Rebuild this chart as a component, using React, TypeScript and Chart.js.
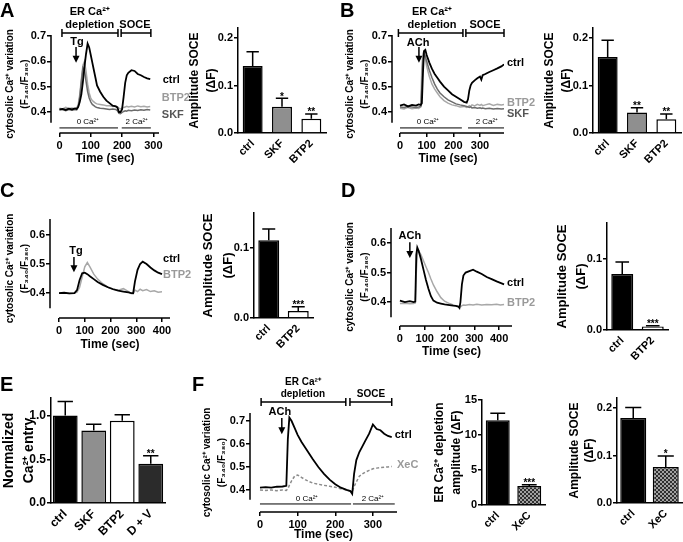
import { useEffect, useRef } from "react";
import { Chart, registerables } from "chart.js";

Chart.register(...registerables);

const FONT = "'Liberation Sans', Arial, Helvetica, sans-serif";

// ---------------- DATA ----------------
const A_TIME = [0, 10, 20, 30, 40, 50, 55, 60, 65, 70, 75, 80, 85, 90, 95, 100, 105, 110, 115, 120, 130, 140, 150, 160, 170, 180, 185, 190, 195, 200, 205, 210, 215, 220, 230, 240, 250, 260, 270, 280, 290];
const A_CTRL = [0.41, 0.412, 0.408, 0.413, 0.41, 0.414, 0.412, 0.42, 0.44, 0.47, 0.52, 0.58, 0.63, 0.67, 0.655, 0.625, 0.595, 0.565, 0.535, 0.505, 0.48, 0.46, 0.445, 0.435, 0.425, 0.422, 0.418, 0.4, 0.4, 0.41, 0.46, 0.515, 0.545, 0.555, 0.565, 0.562, 0.55, 0.545, 0.538, 0.533, 0.53];
const A_BTP2 = [0.415, 0.412, 0.418, 0.414, 0.416, 0.413, 0.415, 0.43, 0.47, 0.53, 0.585, 0.6, 0.56, 0.51, 0.475, 0.455, 0.445, 0.44, 0.435, 0.432, 0.43, 0.428, 0.425, 0.425, 0.422, 0.423, 0.42, 0.415, 0.412, 0.415, 0.418, 0.42, 0.422, 0.42, 0.423, 0.42, 0.424, 0.421, 0.423, 0.42, 0.422];
const A_SKF = [0.408, 0.41, 0.405, 0.41, 0.407, 0.41, 0.408, 0.42, 0.46, 0.52, 0.575, 0.565, 0.52, 0.48, 0.455, 0.44, 0.43, 0.425, 0.42, 0.418, 0.415, 0.414, 0.412, 0.41, 0.412, 0.41, 0.405, 0.395, 0.393, 0.398, 0.402, 0.405, 0.403, 0.407, 0.405, 0.408, 0.406, 0.409, 0.407, 0.41, 0.408];
const A_X_TICKS = [0, 100, 200, 300];
const TRACE_Y_TICKS = [0.4, 0.5, 0.6, 0.7];

const A_BAR_CATS = ["ctrl", "SKF", "BTP2"];
const A_BAR_MEAN = [0.141, 0.055, 0.03];
const A_BAR_SEM = [0.03, 0.018, 0.01];
const A_BAR_SIG = ["", "*", "**"];
const SOCE_Y_TICKS = [0, 0.1, 0.2];

const B_TIME = [0, 15, 30, 45, 60, 70, 78, 82, 86, 90, 95, 100, 110, 120, 130, 140, 150, 165, 180, 195, 210, 225, 240, 250, 255, 260, 265, 270, 280, 290, 300, 305, 310, 320, 335, 350, 365, 380, 390];
const B_CTRL = [0.425, 0.43, 0.422, 0.428, 0.425, 0.43, 0.428, 0.435, 0.55, 0.64, 0.645, 0.625, 0.595, 0.57, 0.55, 0.535, 0.52, 0.5, 0.485, 0.47, 0.46, 0.45, 0.44, 0.437, 0.45, 0.485, 0.505, 0.515, 0.525, 0.533, 0.54, 0.528, 0.545, 0.55, 0.558, 0.565, 0.572, 0.58, 0.588];
const B_BTP2 = [0.415, 0.412, 0.418, 0.413, 0.416, 0.414, 0.42, 0.58, 0.63, 0.64, 0.61, 0.58, 0.54, 0.51, 0.49, 0.475, 0.46, 0.445, 0.435, 0.428, 0.425, 0.42, 0.422, 0.418, 0.42, 0.425, 0.422, 0.428, 0.424, 0.43, 0.426, 0.43, 0.425, 0.428, 0.432, 0.426, 0.43, 0.428, 0.43];
const B_SKF = [0.42, 0.418, 0.422, 0.42, 0.418, 0.42, 0.422, 0.5, 0.6, 0.63, 0.62, 0.6, 0.565, 0.535, 0.51, 0.49, 0.475, 0.46, 0.448, 0.44, 0.432, 0.428, 0.425, 0.422, 0.42, 0.418, 0.42, 0.416, 0.418, 0.415, 0.417, 0.414, 0.416, 0.413, 0.415, 0.412, 0.414, 0.412, 0.413];
const B_X_TICKS = [0, 100, 200, 300];

const B_BAR_CATS = ["ctrl", "SKF", "BTP2"];
const B_BAR_MEAN = [0.16, 0.043, 0.029];
const B_BAR_SEM = [0.035, 0.01, 0.011];
const B_BAR_SIG = ["", "**", "**"];

const C_TIME = [0, 20, 40, 60, 70, 80, 90, 100, 110, 120, 135, 150, 170, 190, 210, 230, 250, 270, 280, 288, 295, 305, 315, 325, 340, 355, 370, 385, 400];
const C_CTRL = [0.4, 0.401, 0.399, 0.4, 0.41, 0.445, 0.468, 0.47, 0.465, 0.458, 0.448, 0.438, 0.428, 0.42, 0.413, 0.408, 0.405, 0.402, 0.4, 0.4, 0.44, 0.48, 0.5, 0.508, 0.5, 0.488, 0.478, 0.47, 0.465];
const C_BTP2 = [0.4, 0.4, 0.398, 0.4, 0.403, 0.42, 0.455, 0.49, 0.505, 0.49, 0.465, 0.448, 0.432, 0.42, 0.414, 0.41, 0.415, 0.405, 0.398, 0.397, 0.41, 0.405, 0.413, 0.408, 0.412, 0.405, 0.408, 0.403, 0.404];
const CD_X_TICKS = [0, 100, 200, 300, 400];
const CD_Y_TICKS = [0.4, 0.5, 0.6];

const C_BAR_CATS = ["ctrl", "BTP2"];
const C_BAR_MEAN = [0.111, 0.01];
const C_BAR_SEM = [0.016, 0.006];
const C_BAR_SIG = ["", "***"];
const CD_BAR_Y_TICKS = [0, 0.1];

const D_TIME = [0, 20, 40, 55, 62, 66, 70, 75, 85, 95, 105, 115, 125, 135, 150, 165, 180, 200, 215, 225, 235, 240, 244, 250, 256, 265, 280, 295, 310, 330, 350, 370, 390, 405, 420];
const D_CTRL = [0.405, 0.4, 0.403, 0.4, 0.402, 0.56, 0.585, 0.575, 0.545, 0.51, 0.475, 0.445, 0.42, 0.405, 0.398, 0.395, 0.392, 0.39, 0.388, 0.387, 0.385, 0.38, 0.4, 0.46, 0.49, 0.5, 0.505, 0.51, 0.503, 0.495, 0.485, 0.478, 0.47, 0.465, 0.46];
const D_BTP2 = [0.395, 0.396, 0.394, 0.395, 0.397, 0.5, 0.565, 0.575, 0.56, 0.54, 0.52, 0.5, 0.478, 0.458, 0.435, 0.415, 0.403, 0.395, 0.39, 0.388, 0.386, 0.385, 0.384, 0.388, 0.39, 0.389, 0.392, 0.39, 0.393, 0.39, 0.392, 0.391, 0.393, 0.39, 0.392];

const D_BAR_CATS = ["ctrl", "BTP2"];
const D_BAR_MEAN = [0.079, 0.005];
const D_BAR_SEM = [0.017, 0.001];
const D_BAR_SIG = ["", "***"];

const E_CATS = ["ctrl", "SKF", "BTP2", "D + V"];
const E_MEAN = [1.0, 0.83, 0.94, 0.45];
const E_SEM = [0.16, 0.07, 0.07, 0.09];
const E_SIG = ["", "", "", "**"];
const E_Y_TICKS = [0, 0.5, 1.0];

const F_TIME = [0, 15, 30, 45, 60, 70, 74, 78, 84, 92, 100, 110, 120, 130, 140, 155, 170, 185, 200, 215, 230, 240, 245, 250, 256, 264, 272, 280, 290, 300, 310, 320, 330, 340, 350];
const F_CTRL = [0.41, 0.412, 0.41, 0.414, 0.415, 0.418, 0.62, 0.715, 0.7, 0.67, 0.64, 0.61, 0.585, 0.56, 0.535, 0.5, 0.47, 0.445, 0.425, 0.41, 0.4, 0.395, 0.383, 0.47, 0.53, 0.565, 0.59, 0.615, 0.645, 0.685, 0.665, 0.66, 0.645, 0.635, 0.63];
const F_XEC = [0.4, 0.398, 0.4, 0.397, 0.4, 0.398, 0.405, 0.42, 0.44, 0.46, 0.465, 0.455, 0.445, 0.437, 0.43, 0.425, 0.42, 0.416, 0.412, 0.405, 0.4, 0.396, 0.392, 0.415, 0.435, 0.46, 0.47, 0.478, 0.485, 0.492, 0.495, 0.497, 0.499, 0.5, 0.502];
const F_X_TICKS = [0, 100, 200, 300];

const F1_CATS = ["ctrl", "XeC"];
const F1_MEAN = [12.1, 2.7];
const F1_SEM = [1.0, 0.2];
const F1_SIG = ["", "***"];
const F1_Y_TICKS = [0, 5, 10, 15];
const F2_CATS = ["ctrl", "XeC"];
const F2_MEAN = [0.179, 0.076];
const F2_SEM = [0.022, 0.023];
const F2_SIG = ["", "*"];

const TRACE_TITLE = ["cytosolic Ca\u00b2\u207a variation", "(F\u2083\u2084\u2080/F\u2083\u2088\u2080)"];
const SOCE_TITLE = ["Amplitude SOCE", "(\u0394F)"];
const E_TITLE = ["Normalized", "Ca\u00b2\u207a entry"];
const F1_TITLE = ["ER Ca\u00b2\u207a depletion", "amplitude (\u0394F)"];

// ---------------- HELPERS ----------------
type Box = { cx: number; cy: number; cw: number; ch: number; l: number; t: number; r: number; b: number; padL: number };
type Ann =
  | { k: "t"; s: string; x: number; y: number; size: number; color?: string; al?: CanvasTextAlign; w?: string }
  | { k: "br"; x1: number; x2: number; y: number }
  | { k: "hl"; x1: number; x2: number; y: number }
  | { k: "ar"; x: number; y1: number; y2: number };

const tickGrid = { display: true, drawOnChartArea: false, drawTicks: true, tickLength: 4, color: "#000", lineWidth: 1.5 };
const tf = (size: number) => ({ family: FONT, size, weight: "bold" as const });

function annPlugin(list: Ann[]) {
  return {
    id: "ann",
    afterDraw(chart: any) {
      const ctx = chart.ctx as CanvasRenderingContext2D;
      const X = (v: number) => chart.scales.x.getPixelForValue(v);
      const Y = (v: number) => chart.scales.y.getPixelForValue(v);
      ctx.save();
      ctx.strokeStyle = "#000";
      ctx.fillStyle = "#000";
      for (const a of list) {
        if (a.k === "t") {
          ctx.font = `${a.w ?? "bold"} ${a.size}px ${FONT}`;
          ctx.fillStyle = a.color ?? "#000";
          ctx.textAlign = a.al ?? "center";
          ctx.textBaseline = "middle";
          ctx.fillText(a.s, X(a.x), Y(a.y));
        } else if (a.k === "br") {
          const y = Y(a.y), x1 = X(a.x1), x2 = X(a.x2);
          ctx.lineWidth = 1.5;
          ctx.beginPath();
          ctx.moveTo(x1, y); ctx.lineTo(x2, y);
          ctx.moveTo(x1, y - 4); ctx.lineTo(x1, y + 4);
          ctx.moveTo(x2, y - 4); ctx.lineTo(x2, y + 4);
          ctx.stroke();
        } else if (a.k === "hl") {
          const y = Y(a.y);
          ctx.lineWidth = 1;
          ctx.beginPath();
          ctx.moveTo(X(a.x1), y); ctx.lineTo(X(a.x2), y);
          ctx.stroke();
        } else if (a.k === "ar") {
          const x = X(a.x), y1 = Y(a.y1), y2 = Y(a.y2);
          ctx.fillStyle = "#000";
          ctx.lineWidth = 1.5;
          ctx.beginPath();
          ctx.moveTo(x, y1); ctx.lineTo(x, y2 - 5);
          ctx.stroke();
          ctx.beginPath();
          ctx.moveTo(x - 3.5, y2 - 7); ctx.lineTo(x + 3.5, y2 - 7); ctx.lineTo(x, y2);
          ctx.closePath(); ctx.fill();
        }
      }
      ctx.restore();
    },
  };
}

function axesPlugin(yEnd: number) {
  return {
    id: "prismAxes",
    afterDraw(chart: any) {
      const ctx = chart.ctx as CanvasRenderingContext2D;
      const a = chart.chartArea;
      ctx.save();
      ctx.strokeStyle = "#000";
      ctx.lineWidth = 1.5;
      ctx.beginPath();
      ctx.moveTo(a.left, a.top);
      ctx.lineTo(a.left, chart.scales.y.getPixelForValue(yEnd));
      ctx.moveTo(chart.scales.x.getPixelForValue(0), a.bottom);
      ctx.lineTo(a.right, a.bottom);
      ctx.stroke();
      ctx.restore();
    },
  };
}

function errPlugin(sem: number[], sig: string[], starSize: number) {
  return {
    id: "err",
    afterDatasetsDraw(chart: any) {
      const ctx = chart.ctx as CanvasRenderingContext2D;
      const ys = chart.scales.y;
      const meta = chart.getDatasetMeta(0);
      const vals = chart.data.datasets[0].data as number[];
      ctx.save();
      ctx.strokeStyle = "#000";
      ctx.fillStyle = "#000";
      ctx.lineWidth = 1.5;
      meta.data.forEach((el: any, i: number) => {
        const top = ys.getPixelForValue(vals[i] + sem[i]);
        const w = el.width * 0.62;
        ctx.beginPath();
        ctx.moveTo(el.x, el.y); ctx.lineTo(el.x, top);
        ctx.moveTo(el.x - w / 2, top); ctx.lineTo(el.x + w / 2, top);
        ctx.stroke();
        if (sig[i]) {
          ctx.font = `bold ${starSize}px ${FONT}`;
          ctx.textAlign = "center";
          ctx.textBaseline = "alphabetic";
          ctx.fillText(sig[i], el.x, top + 1.5);
        }
      });
      ctx.restore();
    },
  };
}

type Series = { t: number[]; v: number[]; color: string; width?: number; dash?: number[] };
type LineSpec = {
  kind: "line"; box: Box; xMin: number; xMax: number; yMin: number; yMax: number;
  xTicks: number[]; yTicks: number[]; yEnd: number; series: Series[]; title: string[]; titleSize: number; titleLH: number; ann: Ann[];
};
type BarSpec = {
  kind: "bar"; box: Box; cats: string[]; mean: number[]; sem: number[]; sig: string[]; colors: string[];
  yMax: number; yTicks: number[]; yDec: number; title: string[]; titleSize: number; titleLH: number; tickSize: number; barPct: number; starSize: number;
};

function lineConfig(s: LineSpec): any {
  const b = s.box;
  return {
    type: "line",
    data: {
      datasets: s.series.map((se) => ({
        data: se.t.map((t, i) => ({ x: t, y: se.v[i] })),
        borderColor: se.color,
        borderWidth: se.width ?? 1.5,
        borderDash: se.dash ?? [],
        pointRadius: 0,
        tension: 0,
        fill: false,
      })),
    },
    options: {
      animation: false, responsive: false, devicePixelRatio: 1, events: [],
      layout: { padding: { left: b.padL, top: b.t - b.cy, right: b.cx + b.cw - b.r, bottom: 0 } },
      plugins: { legend: { display: false }, tooltip: { enabled: false } },
      scales: {
        x: {
          type: "linear", min: s.xMin, max: s.xMax,
          grid: tickGrid, border: { display: false },
          ticks: { color: "#000", font: tf(11), padding: 2, maxRotation: 0, autoSkip: false, callback: (v: any) => String(v) },
          afterBuildTicks: (sc: any) => { sc.ticks = s.xTicks.map((value) => ({ value })); },
          afterFit: (sc: any) => { sc.height = b.cy + b.ch - b.b; },
          title: { display: true, text: "Time (sec)", color: "#000", font: { family: FONT, size: 12, weight: "bold", lineHeight: 1.2 }, padding: 0 },
        },
        y: {
          type: "linear", min: s.yMin, max: s.yMax,
          grid: tickGrid, border: { display: false },
          ticks: { color: "#000", font: tf(11), padding: 1, autoSkip: false, callback: (v: any) => Number(v).toFixed(1) },
          afterBuildTicks: (sc: any) => { sc.ticks = s.yTicks.map((value) => ({ value })); },
          afterFit: (sc: any) => { sc.width = b.l - b.cx - b.padL; },
          title: { display: true, text: s.title, color: "#000", font: { family: FONT, size: s.titleSize, weight: "bold", lineHeight: s.titleLH / s.titleSize }, padding: 0 },
        },
      },
    },
    plugins: [axesPlugin(s.yEnd), annPlugin(s.ann)],
  };
}

function barConfig(s: BarSpec, pattern: CanvasPattern | string): any {
  const b = s.box;
  return {
    type: "bar",
    data: {
      labels: s.cats,
      datasets: [{
        data: s.mean,
        backgroundColor: s.colors.map((c) => (c === "pattern" ? pattern : c)),
        borderColor: "#000",
        borderWidth: 1.5,
        barPercentage: s.barPct,
        categoryPercentage: 1,
      }],
    },
    options: {
      animation: false, responsive: false, devicePixelRatio: 1, events: [],
      layout: { padding: { left: b.padL, top: b.t - b.cy, right: b.cx + b.cw - b.r, bottom: 0 } },
      plugins: { legend: { display: false }, tooltip: { enabled: false } },
      scales: {
        x: {
          grid: { display: true, drawOnChartArea: false, drawTicks: false },
          border: { display: true, color: "#000", width: 1.5 },
          ticks: { color: "#000", font: tf(s.tickSize), padding: 4, minRotation: 45, maxRotation: 45, autoSkip: false },
          afterFit: (sc: any) => { sc.height = b.cy + b.ch - b.b; },
        },
        y: {
          min: 0, max: s.yMax,
          grid: tickGrid,
          border: { display: true, color: "#000", width: 1.5 },
          ticks: { color: "#000", font: tf(s.tickSize), padding: 1, autoSkip: false, callback: (v: any) => Number(v).toFixed(s.yDec) },
          afterBuildTicks: (sc: any) => { sc.ticks = s.yTicks.map((value) => ({ value })); },
          afterFit: (sc: any) => { sc.width = b.l - b.cx - b.padL; },
          title: { display: true, text: s.title, color: "#000", font: { family: FONT, size: s.titleSize, weight: "bold", lineHeight: s.titleLH / s.titleSize }, padding: 0 },
        },
      },
    },
    plugins: [errPlugin(s.sem, s.sig, s.starSize)],
  };
}

const BLACK = "#000";
const LIGHT = "#a8a8a8";
const DARK = "#6b6b6b";

const PANELS: (LineSpec | BarSpec)[] = [
  {
    kind: "line",
    box: { cx: 0, cy: 0, cw: 205, ch: 166, l: 51, t: 35, r: 159, b: 133, padL: 2.5 },
    xMin: -27, xMax: 318, yMin: 0.317, yMax: 0.704, xTicks: A_X_TICKS, yTicks: TRACE_Y_TICKS, yEnd: 0.357,
    series: [
      { t: A_TIME, v: A_CTRL, color: BLACK, width: 1.8 },
      { t: A_TIME, v: A_SKF, color: DARK },
      { t: A_TIME, v: A_BTP2, color: LIGHT },
    ],
    title: TRACE_TITLE, titleSize: 10, titleLH: 15,
    ann: [
      { k: "t", s: "ER Ca\u00b2\u207a", x: 97, y: 0.795, size: 11 },
      { k: "t", s: "depletion", x: 97, y: 0.743, size: 11 },
      { k: "t", s: "SOCE", x: 241, y: 0.743, size: 11 },
      { k: "br", x1: 8, x2: 187, y: 0.712 },
      { k: "br", x1: 197, x2: 292, y: 0.712 },
      { k: "t", s: "Tg", x: 56, y: 0.676, size: 11 },
      { k: "ar", x: 53, y1: 0.657, y2: 0.594 },
      { k: "hl", x1: 0, x2: 187, y: 0.337 },
      { k: "t", s: "0 Ca\u00b2\u207a", x: 91, y: 0.36, size: 8, w: "normal" },
      { k: "hl", x1: 199, x2: 292, y: 0.337 },
      { k: "t", s: "2 Ca\u00b2\u207a", x: 247, y: 0.36, size: 8, w: "normal" },
      { k: "t", s: "ctrl", x: 330, y: 0.526, size: 11, al: "left" },
      { k: "t", s: "BTP2", x: 327, y: 0.455, size: 11, al: "left", color: "#9a9a9a" },
      { k: "t", s: "SKF", x: 327, y: 0.388, size: 11, al: "left", color: "#555" },
    ],
  },
  {
    kind: "bar",
    box: { cx: 175, cy: 0, cw: 153, ch: 170, l: 238, t: 28, r: 326, b: 133, padL: 11.5 },
    cats: A_BAR_CATS, mean: A_BAR_MEAN, sem: A_BAR_SEM, sig: A_BAR_SIG, colors: ["#000", "#8f8f8f", "#fff"],
    yMax: 0.221, yTicks: SOCE_Y_TICKS, yDec: 1, title: SOCE_TITLE, titleSize: 12, titleLH: 17, tickSize: 11, barPct: 0.68, starSize: 10,
  },
  {
    kind: "line",
    box: { cx: 340, cy: 0, cw: 195, ch: 166, l: 392, t: 35, r: 504, b: 133, padL: 2.5 },
    xMin: -30, xMax: 390, yMin: 0.317, yMax: 0.704, xTicks: B_X_TICKS, yTicks: TRACE_Y_TICKS, yEnd: 0.357,
    series: [
      { t: B_TIME, v: B_CTRL, color: BLACK, width: 1.8 },
      { t: B_TIME, v: B_SKF, color: DARK },
      { t: B_TIME, v: B_BTP2, color: LIGHT },
    ],
    title: TRACE_TITLE, titleSize: 10, titleLH: 15,
    ann: [
      { k: "t", s: "ER Ca\u00b2\u207a", x: 120, y: 0.795, size: 11 },
      { k: "t", s: "depletion", x: 120, y: 0.743, size: 11 },
      { k: "t", s: "SOCE", x: 319, y: 0.743, size: 11 },
      { k: "br", x1: -6, x2: 236, y: 0.712 },
      { k: "br", x1: 247, x2: 390, y: 0.712 },
      { k: "t", s: "ACh", x: 68, y: 0.672, size: 11 },
      { k: "ar", x: 71, y1: 0.657, y2: 0.594 },
      { k: "hl", x1: 0, x2: 232, y: 0.337 },
      { k: "t", s: "0 Ca\u00b2\u207a", x: 105, y: 0.36, size: 8, w: "normal" },
      { k: "hl", x1: 255, x2: 390, y: 0.337 },
      { k: "t", s: "2 Ca\u00b2\u207a", x: 326, y: 0.36, size: 8, w: "normal" },
      { k: "t", s: "ctrl", x: 401, y: 0.593, size: 11, al: "left" },
      { k: "t", s: "BTP2", x: 401, y: 0.436, size: 11, al: "left", color: "#9a9a9a" },
      { k: "t", s: "SKF", x: 401, y: 0.392, size: 11, al: "left", color: "#555" },
    ],
  },
  {
    kind: "bar",
    box: { cx: 530, cy: 0, cw: 153, ch: 170, l: 593, t: 28, r: 681, b: 133, padL: 11.5 },
    cats: B_BAR_CATS, mean: B_BAR_MEAN, sem: B_BAR_SEM, sig: B_BAR_SIG, colors: ["#000", "#8f8f8f", "#fff"],
    yMax: 0.221, yTicks: SOCE_Y_TICKS, yDec: 1, title: SOCE_TITLE, titleSize: 12, titleLH: 17, tickSize: 11, barPct: 0.68, starSize: 10,
  },
  {
    kind: "line",
    box: { cx: 0, cy: 200, cw: 200, ch: 152, l: 50, t: 219, r: 170, b: 318, padL: 2.5 },
    xMin: -35, xMax: 431, yMin: 0.314, yMax: 0.655, xTicks: CD_X_TICKS, yTicks: CD_Y_TICKS, yEnd: 0.348,
    series: [
      { t: C_TIME, v: C_CTRL, color: BLACK, width: 1.8 },
      { t: C_TIME, v: C_BTP2, color: LIGHT },
    ],
    title: TRACE_TITLE, titleSize: 10, titleLH: 15,
    ann: [
      { k: "t", s: "Tg", x: 66, y: 0.545, size: 11 },
      { k: "ar", x: 58, y1: 0.524, y2: 0.472 },
      { k: "t", s: "ctrl", x: 404, y: 0.517, size: 11, al: "left" },
      { k: "t", s: "BTP2", x: 404, y: 0.462, size: 11, al: "left", color: "#9a9a9a" },
    ],
  },
  {
    kind: "bar",
    box: { cx: 195, cy: 200, cw: 125, ch: 152, l: 254, t: 213, r: 313, b: 318, padL: 3 },
    cats: C_BAR_CATS, mean: C_BAR_MEAN, sem: C_BAR_SEM, sig: C_BAR_SIG, colors: ["#000", "#fff"],
    yMax: 0.15, yTicks: CD_BAR_Y_TICKS, yDec: 1, title: SOCE_TITLE, titleSize: 13, titleLH: 20, tickSize: 11, barPct: 0.71, starSize: 10,
  },
  {
    kind: "line",
    box: { cx: 340, cy: 200, cw: 200, ch: 159, l: 391, t: 228, r: 512, b: 326, padL: 2.5 },
    xMin: -36, xMax: 452, yMin: 0.319, yMax: 0.651, xTicks: CD_X_TICKS, yTicks: CD_Y_TICKS, yEnd: 0.349,
    series: [
      { t: D_TIME, v: D_CTRL, color: BLACK, width: 1.8 },
      { t: D_TIME, v: D_BTP2, color: LIGHT },
    ],
    title: TRACE_TITLE, titleSize: 10, titleLH: 15,
    ann: [
      { k: "t", s: "ACh", x: 40, y: 0.624, size: 11 },
      { k: "ar", x: 40, y1: 0.603, y2: 0.549 },
      { k: "t", s: "ctrl", x: 432, y: 0.464, size: 11, al: "left" },
      { k: "t", s: "BTP2", x: 432, y: 0.397, size: 11, al: "left", color: "#9a9a9a" },
    ],
  },
  {
    kind: "bar",
    box: { cx: 545, cy: 200, cw: 130, ch: 160, l: 607, t: 223, r: 668, b: 330, padL: 7.5 },
    cats: D_BAR_CATS, mean: D_BAR_MEAN, sem: D_BAR_SEM, sig: D_BAR_SIG, colors: ["#000", "#fff"],
    yMax: 0.151, yTicks: CD_BAR_Y_TICKS, yDec: 1, title: SOCE_TITLE, titleSize: 13, titleLH: 19, tickSize: 11, barPct: 0.72, starSize: 10,
  },
  {
    kind: "bar",
    box: { cx: -6, cy: 380, cw: 176, ch: 162, l: 51, t: 398, r: 165, b: 503, padL: 5 },
    cats: E_CATS, mean: E_MEAN, sem: E_SEM, sig: E_SIG, colors: ["#000", "#8f8f8f", "#fff", "#2b2b2b"],
    yMax: 1.2, yTicks: E_Y_TICKS, yDec: 1, title: E_TITLE, titleSize: 14, titleLH: 20, tickSize: 12, barPct: 0.87, starSize: 10,
  },
  {
    kind: "line",
    box: { cx: 195, cy: 375, cw: 225, ch: 167, l: 250, t: 413, r: 397, b: 512, padL: 4.5 },
    xMin: -26.5, xMax: 364, yMin: 0.304, yMax: 0.735, xTicks: F_X_TICKS, yTicks: TRACE_Y_TICKS, yEnd: 0.357,
    series: [
      { t: F_TIME, v: F_CTRL, color: BLACK, width: 1.8 },
      { t: F_TIME, v: F_XEC, color: "#8c8c8c", dash: [3, 2] },
    ],
    title: TRACE_TITLE, titleSize: 10, titleLH: 15,
    ann: [
      { k: "t", s: "ER Ca\u00b2\u207a", x: 114, y: 0.867, size: 10 },
      { k: "t", s: "depletion", x: 114, y: 0.817, size: 10 },
      { k: "t", s: "SOCE", x: 295, y: 0.817, size: 10 },
      { k: "br", x1: 3, x2: 228, y: 0.783 },
      { k: "br", x1: 239, x2: 350, y: 0.783 },
      { k: "t", s: "ACh", x: 53, y: 0.739, size: 11 },
      { k: "ar", x: 58, y1: 0.713, y2: 0.643 },
      { k: "hl", x1: 0, x2: 242, y: 0.339 },
      { k: "t", s: "0 Ca\u00b2\u207a", x: 125, y: 0.361, size: 8, w: "normal" },
      { k: "hl", x1: 247, x2: 358, y: 0.339 },
      { k: "t", s: "2 Ca\u00b2\u207a", x: 300, y: 0.361, size: 8, w: "normal" },
      { k: "t", s: "ctrl", x: 358, y: 0.639, size: 11, al: "left" },
      { k: "t", s: "XeC", x: 364, y: 0.509, size: 11, al: "left", color: "#9a9a9a" },
    ],
  },
  {
    kind: "bar",
    box: { cx: 428, cy: 385, cw: 120, ch: 157, l: 482, t: 400, r: 545, b: 505, padL: 3.5 },
    cats: F1_CATS, mean: F1_MEAN, sem: F1_SEM, sig: F1_SIG, colors: ["#000", "pattern"],
    yMax: 15, yTicks: F1_Y_TICKS, yDec: 0, title: F1_TITLE, titleSize: 12, titleLH: 17, tickSize: 11, barPct: 0.76, starSize: 10,
  },
  {
    kind: "bar",
    box: { cx: 558, cy: 385, cw: 125, ch: 157, l: 617, t: 398, r: 682, b: 503, padL: 9.5 },
    cats: F2_CATS, mean: F2_MEAN, sem: F2_SEM, sig: F2_SIG, colors: ["#000", "pattern"],
    yMax: 0.221, yTicks: SOCE_Y_TICKS, yDec: 1, title: SOCE_TITLE, titleSize: 12, titleLH: 15, tickSize: 11, barPct: 0.8, starSize: 10,
  },
];

const LETTERS = [
  { s: "A", x: 0, y: 0 },
  { s: "B", x: 340, y: 0 },
  { s: "C", x: 0, y: 180 },
  { s: "D", x: 341, y: 180 },
  { s: "E", x: 0, y: 374 },
  { s: "F", x: 192, y: 374 },
];

function makeChecker(): CanvasPattern | string {
  const c = document.createElement("canvas");
  c.width = 4; c.height = 4;
  const g = c.getContext("2d");
  if (!g) return "#555";
  g.fillStyle = "#a0a0a0"; g.fillRect(0, 0, 4, 4);
  g.fillStyle = "#2e2e2e"; g.fillRect(0, 0, 2, 2); g.fillRect(2, 2, 2, 2);
  return g.createPattern(c, "repeat") ?? "#555";
}

export default function App() {
  const refs = useRef<(HTMLCanvasElement | null)[]>([]);
  useEffect(() => {
    const pattern = makeChecker();
    const charts = PANELS.map((p, i) => {
      const el = refs.current[i]!;
      const cfg = p.kind === "line" ? lineConfig(p) : barConfig(p, pattern);
      return new Chart(el, cfg);
    });
    return () => charts.forEach((c) => c.destroy());
  }, []);
  return (
    <div style={{ position: "absolute", left: 0, top: 0, width: 683, height: 542, background: "#fff", overflow: "hidden" }}>
      {PANELS.map((p, i) => (
        <canvas
          key={i}
          ref={(el) => { refs.current[i] = el; }}
          width={p.box.cw}
          height={p.box.ch}
          style={{ position: "absolute", left: p.box.cx, top: p.box.cy, width: p.box.cw, height: p.box.ch }}
        />
      ))}
      {LETTERS.map((l) => (
        <div key={l.s} style={{ position: "absolute", left: l.x, top: l.y, fontFamily: FONT, fontWeight: "bold", fontSize: 20, lineHeight: "20px", color: "#000" }}>
          {l.s}
        </div>
      ))}
    </div>
  );
}
